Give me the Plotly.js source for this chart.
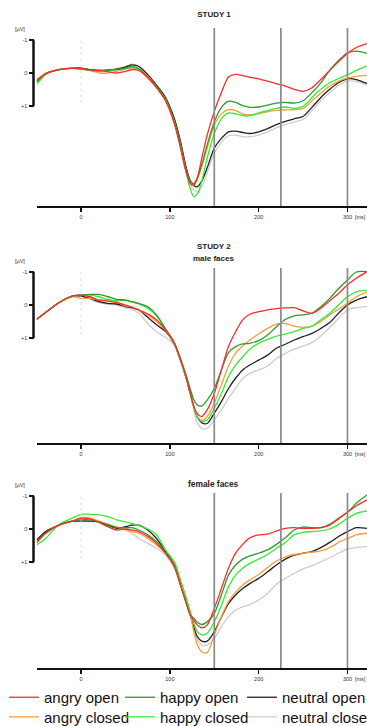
<!DOCTYPE html>
<html>
<head>
<meta charset="utf-8">
<script src="https://cdn.plot.ly/plotly-3.0.1.min.js"></script>
<style>html,body{margin:0;padding:0;background:#fff;}#chart{width:367px;height:726px;}</style>
</head>
<body>
<div id="chart"></div>
<script>
// ---------- DATA ----------
const time = [-50,-40,-25,-10,0,10,20,30,40,50,57,65,75,85,95,105,112,118,123,127,131,136,142,150,158,166,174,182,190,200,210,220,230,240,250,260,270,280,290,300,310,322];

const conditions = ["angry open","happy open","neutral open","angry closed","happy closed","neutral closed"];
const markerTimes = [150, 225, 300];
const xTickVals = [0, 100, 200, 300];
const xTickText = ["0", "100", "200", "300"];
const yTickVals = [-1, 0, 1];
const yTickText = ["-1", "0", "+1"];
const panelTitles = ["STUDY 1", "STUDY 2", "male faces", "female faces"];

// Study 1 (µV, negative up)
const s1_angryOpen    = [0.22,0.03,-0.1,-0.15,-0.14,-0.1,-0.08,-0.04,0.0,-0.05,-0.1,-0.08,0.14,0.45,0.85,1.55,2.3,3.0,3.38,3.43,3.2,2.6,1.9,1.18,0.6,0.12,0.04,0.08,0.13,0.18,0.25,0.33,0.4,0.5,0.56,0.45,0.2,-0.08,-0.35,-0.6,-0.78,-0.9];
const s1_angryClosed  = [0.2,0.02,-0.1,-0.15,-0.13,-0.08,0.0,0.0,-0.05,-0.12,-0.15,-0.12,0.1,0.42,0.8,1.5,2.2,2.95,3.35,3.42,3.25,2.85,2.3,1.6,1.25,1.12,1.15,1.25,1.28,1.25,1.18,1.14,1.13,1.12,1.08,0.85,0.62,0.4,0.25,0.16,0.1,0.07];
const s1_happyOpen    = [0.28,0.03,-0.1,-0.14,-0.12,-0.08,-0.06,-0.08,-0.1,-0.15,-0.2,-0.13,0.12,0.42,0.8,1.5,2.2,2.95,3.3,3.38,3.2,2.8,2.2,1.5,1.05,0.86,0.9,1.0,1.05,1.04,0.98,0.92,0.9,0.92,0.85,0.6,0.3,-0.08,-0.38,-0.62,-0.67,-0.6];
const s1_happyClosed  = [0.35,0.05,-0.1,-0.14,-0.12,-0.08,-0.07,-0.08,-0.1,-0.14,-0.18,-0.1,0.14,0.45,0.82,1.5,2.25,3.0,3.55,3.78,3.7,3.3,2.6,1.85,1.4,1.22,1.25,1.3,1.3,1.22,1.15,1.08,1.04,1.08,1.02,0.75,0.5,0.3,0.17,0.06,-0.08,-0.22];
const s1_neutralOpen  = [0.25,0.02,-0.1,-0.15,-0.15,-0.1,-0.08,-0.09,-0.12,-0.18,-0.25,-0.2,0.05,0.38,0.75,1.4,2.1,2.85,3.3,3.45,3.48,3.3,2.9,2.3,2.0,1.8,1.78,1.82,1.85,1.8,1.7,1.58,1.48,1.4,1.33,1.05,0.75,0.5,0.3,0.18,0.2,0.32];
const s1_neutralClosed= [0.25,0.02,-0.1,-0.15,-0.15,-0.1,-0.08,-0.1,-0.13,-0.2,-0.27,-0.22,0.03,0.36,0.72,1.38,2.1,2.9,3.4,3.58,3.63,3.48,3.05,2.45,2.12,1.92,1.9,1.95,1.95,1.9,1.8,1.68,1.58,1.5,1.42,1.15,0.85,0.6,0.38,0.25,0.26,0.36];

// Study 2, male faces
const s2m_angryOpen    = [0.43,0.23,-0.07,-0.27,-0.3,-0.25,-0.15,-0.12,-0.07,0.0,0.07,0.15,0.27,0.45,0.75,1.16,1.67,2.17,2.68,3.08,3.3,3.38,3.18,2.68,1.97,1.26,0.81,0.45,0.28,0.2,0.15,0.11,0.09,0.08,0.18,0.25,0.1,-0.13,-0.35,-0.61,-0.81,-1.01];
const s2m_angryClosed  = [0.43,0.23,-0.07,-0.25,-0.2,-0.2,-0.15,-0.15,-0.1,0.03,0.05,0.15,0.3,0.5,0.77,1.18,1.67,2.17,2.68,3.08,3.38,3.5,3.38,2.98,2.42,1.85,1.46,1.24,1.06,0.88,0.71,0.58,0.56,0.64,0.68,0.64,0.5,0.3,0.13,-0.05,-0.25,-0.4];
const s2m_happyOpen    = [0.43,0.23,-0.07,-0.27,-0.3,-0.32,-0.32,-0.25,-0.17,-0.15,-0.1,-0.05,0.05,0.3,0.72,1.14,1.62,2.1,2.55,2.88,3.03,3.06,2.88,2.53,1.97,1.44,1.26,1.18,1.16,1.08,0.91,0.66,0.44,0.33,0.3,0.25,0.05,-0.2,-0.5,-0.76,-1.0,-1.01];
const s2m_happyClosed  = [0.43,0.23,-0.07,-0.27,-0.3,-0.3,-0.25,-0.17,-0.13,-0.15,-0.1,-0.03,0.1,0.33,0.73,1.16,1.67,2.17,2.68,3.08,3.38,3.53,3.48,3.13,2.68,2.17,1.82,1.57,1.34,1.16,1.04,0.94,0.88,0.81,0.71,0.64,0.45,0.25,0.0,-0.25,-0.4,-0.45];
const s2m_neutralOpen  = [0.43,0.23,-0.07,-0.27,-0.27,-0.2,-0.1,-0.05,-0.03,0.05,0.08,0.15,0.37,0.6,0.8,1.18,1.67,2.17,2.68,3.08,3.4,3.57,3.59,3.28,2.93,2.53,2.22,1.97,1.82,1.67,1.52,1.31,1.19,1.06,0.96,0.86,0.71,0.53,0.25,0.0,-0.15,-0.25];
const s2m_neutralClosed= [0.43,0.23,-0.07,-0.27,-0.27,-0.18,-0.07,-0.02,0.0,0.08,0.13,0.25,0.56,0.81,0.98,1.22,1.7,2.2,2.72,3.2,3.58,3.74,3.74,3.48,3.18,2.83,2.53,2.22,2.07,1.97,1.85,1.62,1.47,1.34,1.24,1.14,0.94,0.68,0.4,0.15,0.08,0.05];

// Study 2, female faces
const s2f_angryOpen    = [0.41,0.13,-0.12,-0.24,-0.33,-0.31,-0.2,-0.07,0.03,0.0,0.03,0.08,0.23,0.44,0.74,1.15,1.71,2.22,2.63,2.79,2.94,3.02,2.94,2.43,1.82,1.2,0.74,0.47,0.27,0.18,0.16,0.06,-0.02,-0.04,-0.02,-0.02,-0.04,-0.12,-0.31,-0.51,-0.71,-0.89];
const s2f_angryClosed  = [0.44,0.13,-0.12,-0.24,-0.35,-0.33,-0.24,-0.14,-0.07,0.03,0.08,0.13,0.29,0.49,0.74,1.15,1.71,2.22,2.63,3.14,3.55,3.76,3.78,3.24,2.68,2.22,1.94,1.71,1.56,1.39,1.18,0.98,0.85,0.78,0.74,0.71,0.67,0.57,0.41,0.29,0.18,0.13];
const s2f_happyOpen    = [0.39,0.13,-0.12,-0.24,-0.28,-0.28,-0.22,-0.14,-0.04,-0.04,-0.04,0.03,0.18,0.39,0.74,1.1,1.71,2.22,2.63,2.73,2.86,2.92,2.84,2.58,2.02,1.41,1.1,0.92,0.82,0.74,0.64,0.47,0.27,0.03,-0.06,-0.04,-0.04,-0.14,-0.33,-0.51,-0.79,-1.04];
const s2f_happyClosed  = [0.49,0.29,-0.14,-0.33,-0.45,-0.45,-0.43,-0.38,-0.28,-0.22,-0.17,-0.1,0.0,0.18,0.64,1.0,1.56,2.07,2.53,2.89,3.14,3.24,3.19,2.84,2.33,1.77,1.41,1.2,1.05,0.92,0.78,0.59,0.41,0.18,0.1,0.08,0.06,0.0,-0.14,-0.33,-0.48,-0.55];
const s2f_neutralOpen  = [0.34,0.08,-0.12,-0.24,-0.24,-0.24,-0.22,-0.12,-0.02,-0.07,-0.12,-0.12,0.03,0.29,0.69,1.1,1.71,2.22,2.63,2.99,3.3,3.43,3.43,3.14,2.69,2.28,2.02,1.82,1.67,1.51,1.31,1.1,0.92,0.8,0.74,0.69,0.57,0.41,0.23,0.08,-0.04,-0.02];
const s2f_neutralClosed= [0.39,0.13,-0.12,-0.24,-0.28,-0.24,-0.2,-0.12,-0.04,0.03,0.13,0.29,0.44,0.59,0.8,1.2,1.71,2.22,2.63,3.04,3.4,3.55,3.55,3.35,2.99,2.68,2.48,2.38,2.31,2.17,1.97,1.69,1.51,1.36,1.22,1.12,1.0,0.88,0.74,0.61,0.57,0.54];

// ---------- STYLE ----------
const W = 367, H = 726;
const colors = {
  "angry open": "#ff2b2b", "angry closed": "#ff9a3a",
  "happy open": "#2e9a2e", "happy closed": "#33ee33",
  "neutral open": "#222222", "neutral closed": "#cdcdcd"
};
// one legend box per entry: [left px, centre px]
const legendSlots = {
  "angry open": ["legend", 4, 698], "happy open": ["legend2", 120, 698], "neutral open": ["legend3", 242, 698],
  "angry closed": ["legend4", 4, 717.6], "happy closed": ["legend5", 120, 717.6], "neutral closed": ["legend6", 242, 717.6]
};
const drawOrder = ["neutral closed","neutral open","angry closed","happy closed","happy open","angry open"];

const panels = [
  {data: {"angry open": s1_angryOpen, "angry closed": s1_angryClosed, "happy open": s1_happyOpen, "happy closed": s1_happyClosed, "neutral open": s1_neutralOpen, "neutral closed": s1_neutralClosed},
   p0: 73, s: 32.7, top: 28, bottom: 206},
  {data: {"angry open": s2m_angryOpen, "angry closed": s2m_angryClosed, "happy open": s2m_happyOpen, "happy closed": s2m_happyClosed, "neutral open": s2m_neutralOpen, "neutral closed": s2m_neutralClosed},
   p0: 305, s: 33, top: 268, bottom: 443},
  {data: {"angry open": s2f_angryOpen, "angry closed": s2f_angryClosed, "happy open": s2f_happyOpen, "happy closed": s2f_happyClosed, "neutral open": s2f_neutralOpen, "neutral closed": s2f_neutralClosed},
   p0: 529, s: 32.7, top: 493, bottom: 668}
];

const px = v => v / W;
const py = v => 1 - v / H;
const FONT = "Liberation Sans, Arial, sans-serif";

const traces = [];
const layout = {
  width: W, height: H,
  margin: {l: 0, r: 0, t: 0, b: 0, autoexpand: false},
  paper_bgcolor: "#ffffff", plot_bgcolor: "rgba(0,0,0,0)",
  font: {family: FONT, color: "#222"},
  title: {text: "<b>" + panelTitles[0] + "</b>", x: px(214), xanchor: "center", xref: "paper",
          y: py(14), yanchor: "middle", yref: "paper", font: {family: FONT, size: 8, color: "#222"}},
  shapes: [], annotations: []
};

const xDomain = [36.7 / W, 1];
const yAxisX = 33.5 / W;

panels.forEach((p, i) => {
  const n = i === 0 ? "" : String(i + 1);
  const xa = "x" + n, ya = "y" + n;
  drawOrder.forEach(c => {
    traces.push({
      type: "scatter", mode: "lines", x: time, y: p.data[c], name: c,
      xaxis: xa, yaxis: ya,
      line: {color: colors[c], width: 1.3, shape: "spline", smoothing: 0.8},
      showlegend: i === 0, legend: legendSlots[c][0],
      legendrank: conditions.indexOf(c) + 1,
      hoverinfo: "skip"
    });
  });
  const yRange = [(p.bottom - p.p0) / p.s, (p.top - p.p0) / p.s];
  layout["xaxis" + n] = {
    domain: xDomain, range: [-50, 322], anchor: ya,
    showgrid: false, zeroline: false, showline: true, linewidth: 2, linecolor: "#111",
    ticks: "outside", ticklen: 4, tickwidth: 1.5, tickcolor: "#111",
    tickvals: xTickVals, ticktext: xTickText,
    tickfont: {family: FONT, size: 5.5, color: "#333"}, fixedrange: true
  };
  layout["yaxis" + n] = {
    domain: [py(p.bottom), py(p.top)], range: yRange, anchor: "free", position: yAxisX,
    showgrid: false, zeroline: false, showline: false,
    ticks: "outside", ticklen: 5, tickwidth: 2, tickcolor: "#111",
    tickvals: yTickVals, ticktext: yTickText,
    tickfont: {family: FONT, size: 5.5, color: "#333"}, fixedrange: true
  };
  layout.shapes.push({type: "line", xref: "paper", yref: ya, x0: yAxisX, x1: yAxisX, y0: -1, y1: 1,
                      line: {color: "#111", width: 2.5}});
  layout.shapes.push({type: "line", xref: xa, yref: ya, x0: 0, x1: 0, y0: -1, y1: 1,
                      line: {color: "#d4d4d4", width: 0.8, dash: "dot"}});
  markerTimes.forEach(t => {
    layout.shapes.push({type: "line", xref: xa, yref: ya + " domain", x0: t, x1: t, y0: 0, y1: 1,
                        line: {color: "#8a8a8a", width: 1.7}, layer: "above"});
  });
  layout.annotations.push({text: "[µV]", xref: "paper", yref: "paper", x: px(20), y: py(p.p0 - p.s - 11),
                           showarrow: false, xanchor: "center", yanchor: "middle",
                           font: {family: FONT, size: 5.5, color: "#333"}});
  layout.annotations.push({text: "[ms]", xref: "paper", yref: "paper", x: px(360), y: py(p.bottom + 11),
                           showarrow: false, xanchor: "center", yanchor: "middle",
                           font: {family: FONT, size: 5.5, color: "#333"}});
});

layout.annotations.push({text: "<b>" + panelTitles[1] + "</b>", xref: "paper", yref: "paper", x: px(214), y: py(246.5),
  showarrow: false, xanchor: "center", yanchor: "middle", font: {family: FONT, size: 8, color: "#222"}});
layout.annotations.push({text: "<b>" + panelTitles[2] + "</b>", xref: "paper", yref: "paper", x: px(214), y: py(258.5),
  showarrow: false, xanchor: "center", yanchor: "middle", font: {family: FONT, size: 8, color: "#222"}});
layout.annotations.push({text: "<b>" + panelTitles[3] + "</b>", xref: "paper", yref: "paper", x: px(213), y: py(484),
  showarrow: false, xanchor: "center", yanchor: "middle", font: {family: FONT, size: 8.4, color: "#222"}});

Object.keys(legendSlots).forEach(c => {
  const [key, left, centre] = legendSlots[c];
  layout[key] = {orientation: "v", x: px(left), xanchor: "left", xref: "paper", y: py(centre - 17), yanchor: "top", yref: "paper",
    bgcolor: "rgba(0,0,0,0)", borderwidth: 0, tracegroupgap: 0,
    font: {family: FONT, size: 15, color: "#111"}, itemclick: false, itemdoubleclick: false};
});

Plotly.newPlot("chart", traces, layout, {staticPlot: true, displayModeBar: false});
</script>
</body>
</html>
